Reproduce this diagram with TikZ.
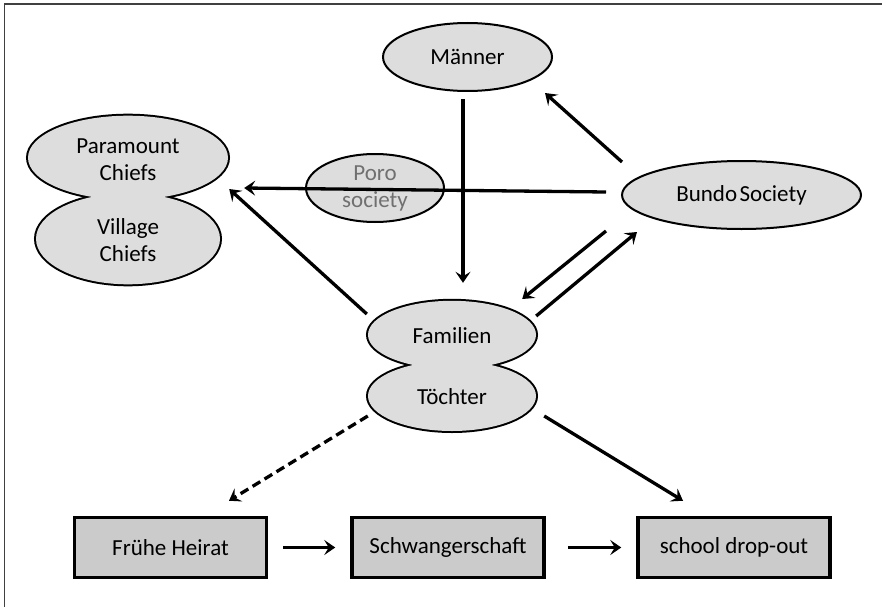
\documentclass[tikz,border=0pt]{standalone}
\usepackage{fontspec}
\setmainfont{Carlito}
\usetikzlibrary{shapes.geometric,arrows.meta}
\definecolor{ovalgray}{HTML}{DDDDDD}
\definecolor{boxgray}{HTML}{CBCBCB}
\definecolor{framegray}{HTML}{404040}
\definecolor{porotext}{HTML}{707070}

\begin{document}
\begin{tikzpicture}[x=1pt,y=-1pt]
    \tikzstyle{txt}=[font=\fontsize{23}{27}\selectfont,align=center]
    \tikzstyle{oval}=[txt,ellipse,draw=black,fill=ovalgray,line width=2pt,inner sep=0pt]
    \tikzstyle{lobe}=[txt,ellipse,inner sep=0pt]
    \tikzstyle{box}=[txt,rectangle,draw=black,fill=boxgray,line width=3.5pt,minimum width=192pt,minimum height=60pt]
    \tikzstyle{arrow}=[line width=3.3pt,-{Stealth[length=11pt,width=15pt,inset=4.5pt]}]
    \useasboundingbox (0,0) rectangle (882,607);
    \draw[line width=1.5pt,framegray] (882,4) -- (4.5,4) -- (4.5,607);
    % two-lobed shapes: thick outline first, then the fill over it
    \foreach \x/\y/\rx/\ry in {128/157.7/100/42,128/238.8/92/45.5,452/334.8/84/34,452/396/84/35}
        \draw[line width=4pt] (\x,\y) ellipse [x radius=\rx pt,y radius=\ry pt];
    \foreach \x/\y/\rx/\ry in {128/157.7/100/42,128/238.8/92/45.5,452/334.8/84/34,452/396/84/35}
        \fill[ovalgray] (\x,\y) ellipse [x radius=\rx pt,y radius=\ry pt];
    \node (pc)[lobe,minimum width=200pt,minimum height=84pt] at (128,160) {Paramount\\Chiefs};
    \node (vc)[lobe,minimum width=184pt,minimum height=91pt] at (128,240) {Village\\Chiefs};
    \node (fam)[lobe,minimum width=168pt,minimum height=68pt] at (452,336) {Familien};
    \node (toe)[lobe,minimum width=168pt,minimum height=70pt] at (452,397) {Töchter};
    \node (m)[oval,minimum width=169pt,minimum height=68pt] at (467.5,57) {Männer};
    \node (poro)[oval,minimum width=138pt,minimum height=68pt,text=porotext] at (375,188) {Poro\\society};
    \node (bundo)[oval,minimum width=239pt,minimum height=68pt] at (741.5,195) {Bundo\hspace{-0.12em} Society};
    \node (heirat)[box] at (170.5,547.5) {Frühe Heirat};
    \node (schw)[box] at (448,547.5) {Schwangerschaft};
    \node (drop)[box] at (734,547.5) {school drop-out};
    \draw[arrow] ([xshift=-4.5pt,yshift=-7pt]m.south) -- ([xshift=11pt,yshift=19pt]fam.north);
    \draw[arrow] ([xshift=1pt,yshift=33pt]bundo.west) -- ([xshift=-8pt,yshift=-36pt]m.east);
    \draw[arrow] ([xshift=-15pt,yshift=3pt]bundo.west) -- ([xshift=16pt,yshift=-28pt]pc.east);
    \draw[arrow] ([xshift=-1pt,yshift=22pt]fam.west) -- ([xshift=1pt,yshift=-29pt]pc.east);
    \draw[arrow] ([xshift=-15pt,yshift=-36pt]bundo.west) -- ([xshift=-14pt,yshift=37pt]fam.east);
    \draw[arrow] ([yshift=20pt]fam.east) -- ([xshift=16pt,yshift=-37pt]bundo.west);
    \draw[arrow] ([xshift=8pt,yshift=-19pt]toe.east) -- ([xshift=-51pt,yshift=15pt]drop.north);
    \draw[arrow,dash pattern=on 9pt off 5pt] ([yshift=-19pt]toe.west) -- ([xshift=58.5pt,yshift=15pt]heirat.north);
    \draw[arrow,shorten <=15pt,shorten >=15pt] (heirat.east) -- (schw.west);
    \draw[arrow,shorten <=22pt,shorten >=15pt] (schw.east) -- (drop.west);
\end{tikzpicture}
\end{document}
